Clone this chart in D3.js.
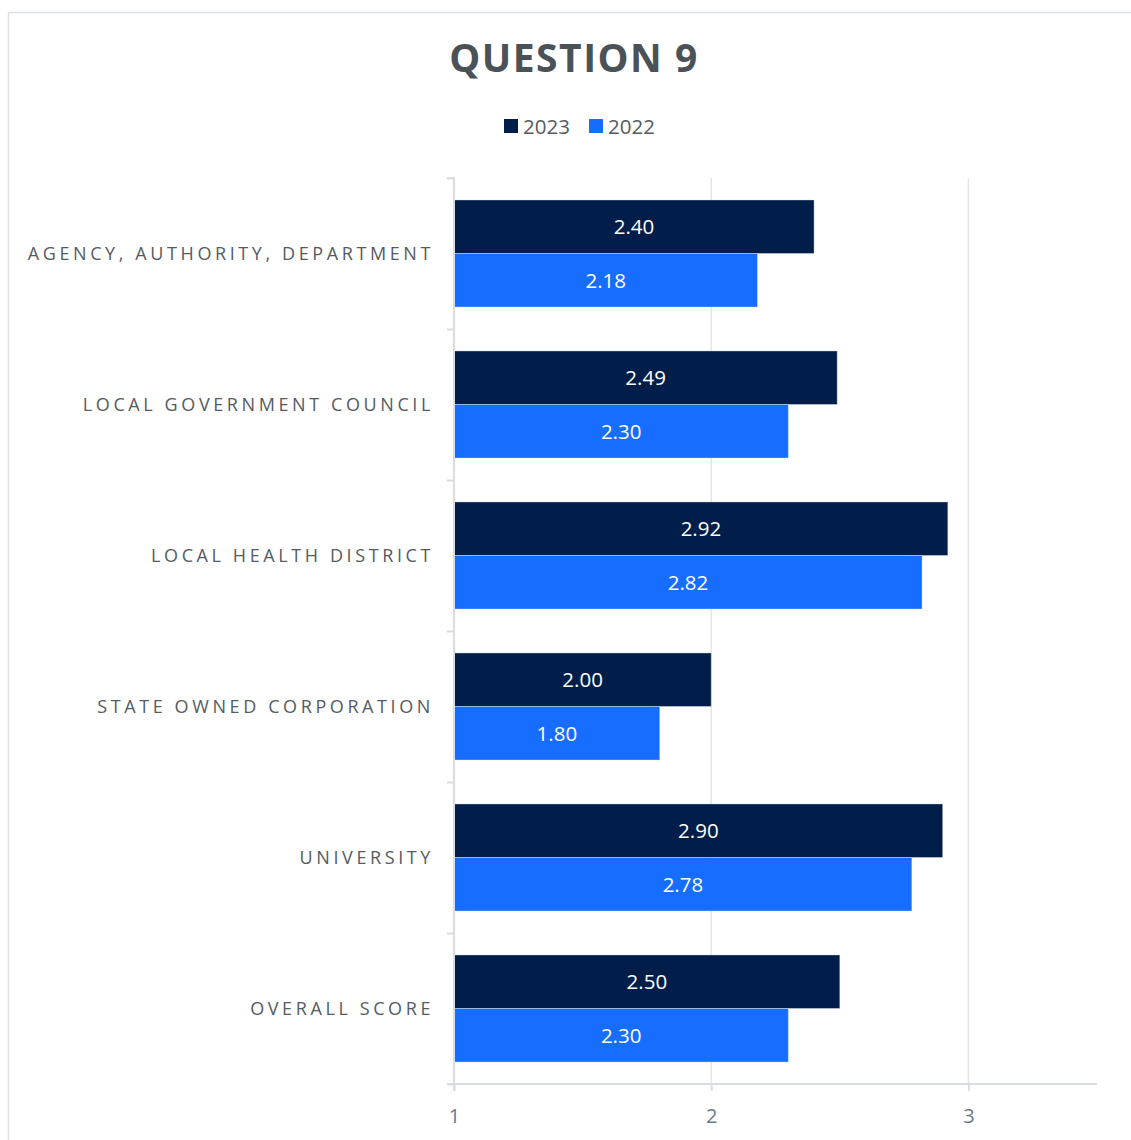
<!DOCTYPE html>
<html>
<head>
<meta charset="utf-8">
<script src="https://cdn.jsdelivr.net/npm/d3@7"></script>
<style>
  html, body { margin: 0; padding: 0; background: #fff; }
  svg { display: block; font-family: "Open Sans", "Noto Sans", sans-serif; }
</style>
</head>
<body>
<svg id="chart" width="1131" height="1140"></svg>
<script>
// Survey scores by organisation type
const categories = [
  "AGENCY, AUTHORITY, DEPARTMENT",
  "LOCAL GOVERNMENT COUNCIL",
  "LOCAL HEALTH DISTRICT",
  "STATE OWNED CORPORATION",
  "UNIVERSITY",
  "OVERALL SCORE"
];
const seriesNames = ["2023", "2022"];
const values2023 = [2.40, 2.49, 2.92, 2.00, 2.90, 2.50];
const values2022 = [2.18, 2.30, 2.82, 1.80, 2.78, 2.30];
const xTicks = [1, 2, 3];
const colors = { "2023": "#011E4B", "2022": "#166DFF" };

const rows = categories.map((c, i) => ({
  category: c,
  values: [
    { series: "2023", value: values2023[i] },
    { series: "2022", value: values2022[i] }
  ]
}));

const svg = d3.select("#chart");
const plot = { left: 454, right: 1097, top: 178, bottom: 1084 };

// outer frame
svg.append("rect")
  .attr("x", 8.5).attr("y", 12.5)
  .attr("width", 1200).attr("height", 1200)
  .attr("fill", "none")
  .attr("stroke", "#dde1e5")
  .attr("stroke-width", 1.5);

// title
svg.append("text")
  .attr("x", 574).attr("y", 72)
  .attr("text-anchor", "middle")
  .attr("font-size", 39)
  .attr("font-weight", 700)
  .attr("letter-spacing", 1.5)
  .attr("fill", "#4a5258")
  .text("QUESTION 9");

// legend
const legend = svg.append("g");
const legendItems = [{ name: "2023", x: 504 }, { name: "2022", x: 589 }];
legendItems.forEach(d => {
  legend.append("rect")
    .attr("x", d.x).attr("y", 119)
    .attr("width", 14).attr("height", 14)
    .attr("fill", colors[d.name]);
  legend.append("text")
    .attr("x", d.x + 19).attr("y", 133.5)
    .attr("font-size", 20.5)
    .attr("fill", "#555b61")
    .text(d.name);
});

// scales
const x = d3.scaleLinear().domain([1, 3.5]).range([plot.left, plot.right]);
const y0 = d3.scaleBand().domain(categories).range([plot.top, plot.bottom]).padding(0);
const y1 = d3.scaleBand().domain(seriesNames).range([0, y0.bandwidth()])
  .paddingInner(0).paddingOuter(0.41);

// vertical gridlines
svg.append("g")
  .selectAll("line")
  .data(xTicks.filter(t => t > 1))
  .join("line")
  .attr("x1", d => x(d)).attr("x2", d => x(d))
  .attr("y1", plot.top).attr("y2", plot.bottom)
  .attr("stroke", "#e3e5e8")
  .attr("stroke-width", 1.5);

// bars
const groups = svg.append("g")
  .selectAll("g")
  .data(rows)
  .join("g")
  .attr("transform", d => `translate(0,${y0(d.category)})`);

groups.selectAll("rect")
  .data(d => d.values)
  .join("rect")
  .attr("x", x(1))
  .attr("y", d => y1(d.series))
  .attr("width", d => x(d.value) - x(1))
  .attr("height", y1.bandwidth())
  .attr("fill", d => colors[d.series])
  .attr("stroke", "rgba(255,255,255,0.35)")
  .attr("stroke-width", 1);

groups.selectAll("text")
  .data(d => d.values)
  .join("text")
  .attr("x", d => (x(d.value) + x(1)) / 2)
  .attr("y", d => y1(d.series) + y1.bandwidth() / 2)
  .attr("dy", "0.36em")
  .attr("text-anchor", "middle")
  .attr("font-size", 20.5)
  .attr("fill", "#ffffff")
  .text(d => d.value.toFixed(2));

// category axis
const yAxis = svg.append("g")
  .attr("transform", `translate(${plot.left},0)`)
  .call(d3.axisLeft(d3.scaleLinear().domain([0, categories.length]).range([plot.top, plot.bottom]))
    .tickValues(d3.range(categories.length + 1))
    .tickSize(7)
    .tickFormat(""));
yAxis.select(".domain")
  .attr("stroke", "#d9dde1").attr("stroke-width", 2)
  .attr("d", `M-7,${plot.top}H0V${plot.bottom + 7}`);
yAxis.selectAll(".tick line").attr("stroke", "#d9dde1").attr("stroke-width", 2);

svg.append("g")
  .selectAll("text")
  .data(categories)
  .join("text")
  .attr("x", 434)
  .attr("y", d => y0(d) + y0.bandwidth() / 2)
  .attr("dy", "0.36em")
  .attr("text-anchor", "end")
  .attr("font-size", 18)
  .attr("letter-spacing", 3.6)
  .attr("fill", "#555b61")
  .text(d => d);

// value axis
const xAxis = svg.append("g")
  .attr("transform", `translate(0,${plot.bottom})`)
  .call(d3.axisBottom(x).tickValues(xTicks).tickSize(7).tickPadding(18).tickFormat(d3.format("d")));
xAxis.select(".domain")
  .attr("stroke", "#d9dde1").attr("stroke-width", 2)
  .attr("d", `M${plot.left - 7},0H${plot.right}`);
xAxis.selectAll(".tick line").attr("stroke", "#d9dde1").attr("stroke-width", 2);
xAxis.selectAll(".tick text")
  .attr("font-size", 20)
  .attr("font-family", "'Open Sans', sans-serif")
  .attr("fill", "#6a7a8a");
</script>
</body>
</html>
